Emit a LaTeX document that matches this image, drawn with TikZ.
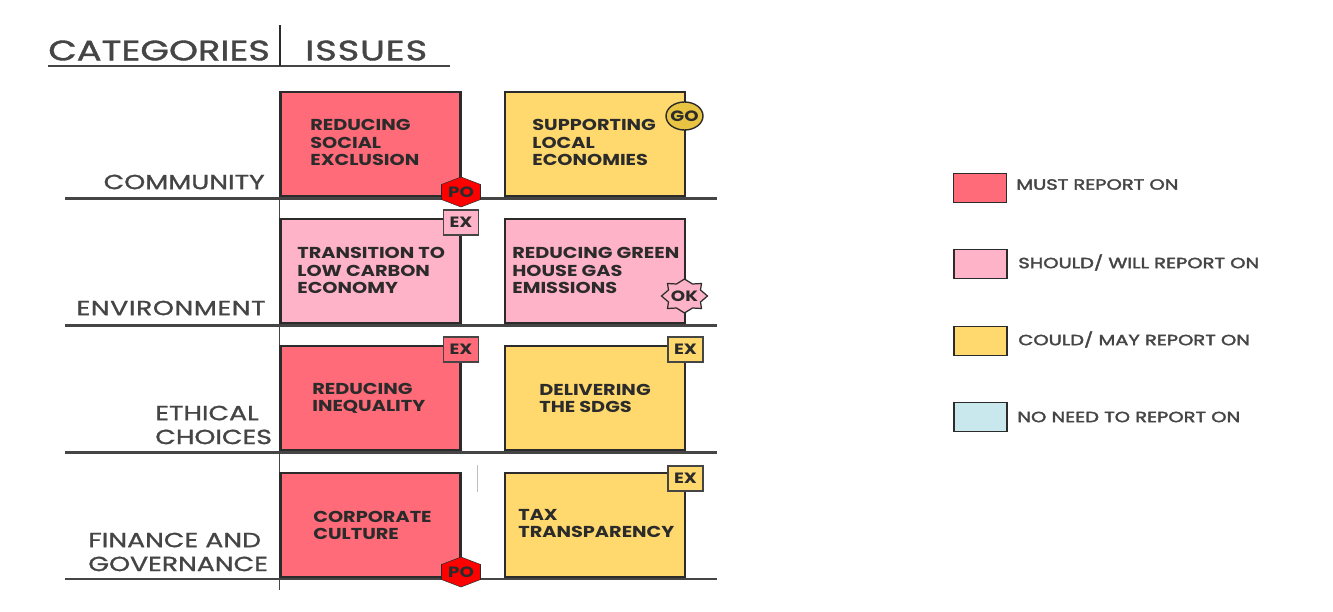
\documentclass[tikz,border=0pt]{standalone}
\usepackage{fontspec}
\setmainfont{Poppins}
\newfontfamily\boxfont{Poppins}[FakeStretch=1.22]
\newfontfamily\catfont{Poppins}[FakeStretch=1.31, FakeBold=1.4]
\newfontfamily\legendfont{Poppins}[FakeStretch=1.32, FakeBold=2.5]
\usepackage{tikz}
\usetikzlibrary{shapes.geometric}

\definecolor{mustred}{HTML}{FF6B78}
\definecolor{shouldpink}{HTML}{FFB3C8}
\definecolor{couldyellow}{HTML}{FFD96E}
\definecolor{noneblue}{HTML}{C8E8EE}
\definecolor{inkdark}{HTML}{2B2B2B}
\definecolor{inkgrey}{HTML}{454545}
\definecolor{goldbadge}{HTML}{E9C443}

\tikzset{
    issuebox/.style={draw=inkdark, line width=1.3pt, minimum width=3.6cm, minimum height=2.07cm, inner sep=0pt},
    legendbox/.style={draw=inkdark, line width=1.1pt, minimum width=1.06cm, minimum height=0.58cm, inner sep=0pt},
    exbadge/.style={draw=inkgrey, line width=0.8pt, minimum width=0.7cm, minimum height=0.5cm, inner sep=0pt, font=\boxfont\fontsize{8.5}{10}\selectfont\bfseries, text=inkdark},
    badgetext/.style={inner sep=0pt, font=\boxfont\fontsize{8.5}{10}\selectfont\bfseries, text=inkdark},
    boxtext/.style={anchor=west, align=left, inner sep=0pt, text=inkdark, font=\boxfont\fontsize{9}{10}\selectfont\bfseries},
    cattext/.style={inner sep=0pt, align=left, text=inkgrey, font=\catfont\fontsize{11.6}{13.6}\selectfont},
    headtext/.style={anchor=west, inner sep=0pt, text=inkgrey, font=\catfont\fontsize{16}{18}\selectfont},
    legendtext/.style={anchor=west, inner sep=0pt, text=inkgrey, font=\legendfont\fontsize{8.4}{10}\selectfont},
    rowrule/.style={draw=inkgrey, line width=1.4pt},
}

\newcommand{\pobadge}[3]{%
    \draw[fill=red, draw=inkdark, line width=0.3pt, shift={(#2,#3)}] (-19.5,-7.5) -- (0,-15) -- (19.5,-7.5) -- (19.5,7.5) -- (0,15) -- (-19.5,7.5) -- cycle;
    \node[badgetext] (#1) at (#2,#3) {PO};
}

\begin{document}
\begin{tikzpicture}[x=0.02cm, y=-0.02cm]
    \useasboundingbox (0,0) rectangle (1333,612);

    % headings
    \node[headtext] (cathead) at (48,50.5) {CATEGORIES};
    \node[headtext] (isshead) at (305,50.5) {\addfontfeature{LetterSpace=3}ISSUES};
    \draw[rowrule] (48,66) -- (450,66);
    \draw[inkdark, line width=0.9pt] (280,25) -- (280,66);
    \draw[inkgrey, line width=0.5pt] (279,198) -- (279,590);
    \draw[gray!50, line width=0.4pt] (477,465) -- (477,492);

    % row rules
    \draw[rowrule] (65,198.5) -- (717,198.5);
    \draw[rowrule] (65,325.5) -- (717,325.5);
    \draw[rowrule] (65,452.5) -- (717,452.5);
    \draw[rowrule] (65,579) -- (717,579);

    % boxes
    \node[issuebox, fill=mustred] (social) at (370.5,144) {};
    \node[issuebox, fill=couldyellow] (local) at (595,144) {};
    \node[issuebox, fill=shouldpink] (carbon) at (370.5,271) {};
    \node[issuebox, fill=shouldpink] (green) at (595,271) {};
    \node[issuebox, fill=mustred] (inequal) at (370.5,398) {};
    \node[issuebox, fill=couldyellow] (sdgs) at (595,398) {};
    \node[issuebox, fill=mustred] (culture) at (370.5,525) {};
    \node[issuebox, fill=couldyellow] (tax) at (595,525) {};

    % box texts
    \node[boxtext] (socialtxt) at (310,142.5) {REDUCING\\SOCIAL\\EXCLUSION};
    \node[boxtext] (localtxt) at (532,142.5) {SUPPORTING\\LOCAL\\ECONOMIES};
    \node[boxtext] (carbontxt) at (297,270.5) {TRANSITION TO\\LOW CARBON\\ECONOMY};
    \node[boxtext] (greentxt) at (512,270.5) {REDUCING GREEN\\HOUSE GAS\\EMISSIONS};
    \node[boxtext] (inequaltxt) at (312,398.5) {REDUCING\\INEQUALITY};
    \node[boxtext] (sdgstxt) at (539,398.5) {DELIVERING\\THE SDGS};
    \node[boxtext] (culturetxt) at (313,525.5) {CORPORATE\\CULTURE};
    \node[boxtext] (taxtxt) at (518,523.5) {TAX\\TRANSPARENCY};

    % category labels
    \node[cattext, anchor=east] (community) at (265,182) {COMMUNITY};
    \node[cattext, anchor=east] (environment) at (266,308) {\addfontfeature{LetterSpace=3}ENVIRONMENT};
    \node[cattext, anchor=west] (ethical) at (155,425) {ETHICAL\\CHOICES};
    \node[cattext, anchor=west] (finance) at (88,552) {FINANCE AND\\GOVERNANCE};

    % badges
    \pobadge{posocial}{461}{192}
    \pobadge{poculture}{461}{572}
    \node[exbadge, fill=shouldpink] (excarbon) at (461,222.5) {EX};
    \node[exbadge, fill=mustred] (exinequal) at (461,349.5) {EX};
    \node[exbadge, fill=couldyellow] (exsdgs) at (685.5,349.5) {EX};
    \node[exbadge, fill=couldyellow] (extax) at (685.5,478.5) {EX};
    \node[ellipse, draw=inkdark, line width=0.8pt, fill=goldbadge, minimum width=0.74cm, minimum height=0.56cm, inner sep=-3pt, font=\boxfont\fontsize{8.5}{10}\selectfont\bfseries, text=inkdark] (gobadge) at (684.5,116) {GO};
    \draw[fill=shouldpink, draw=inkdark, line width=0.7pt, shift={(684.5,296)}] (-23,0) -- (-16,-6) -- (-17,-12.5) -- (-8,-12) -- (0,-17) -- (8,-12) -- (17,-12.5) -- (16,-6) -- (23,0) -- (16,6) -- (17,12.5) -- (8,12) -- (0,17) -- (-8,12) -- (-17,12.5) -- (-16,6) -- cycle;
    \node[badgetext] (okbadge) at (684.5,296) {OK};

    % legend
    \node[legendbox, fill=mustred] (mustkey) at (980,188) {};
    \node[legendbox, fill=shouldpink] (shouldkey) at (980.5,264) {};
    \node[legendbox, fill=couldyellow] (couldkey) at (980.5,341) {};
    \node[legendbox, fill=noneblue] (nonekey) at (980.5,417) {};
    \node[legendtext] (musttxt) at (1016,184.5) {MUST REPORT ON};
    \node[legendtext] (shouldtxt) at (1018,262.5) {SHOULD/ WILL REPORT ON};
    \node[legendtext] (couldtxt) at (1018,339.5) {COULD/ MAY REPORT ON};
    \node[legendtext] (nonetxt) at (1017,417) {NO NEED TO REPORT ON};
\end{tikzpicture}
\end{document}
